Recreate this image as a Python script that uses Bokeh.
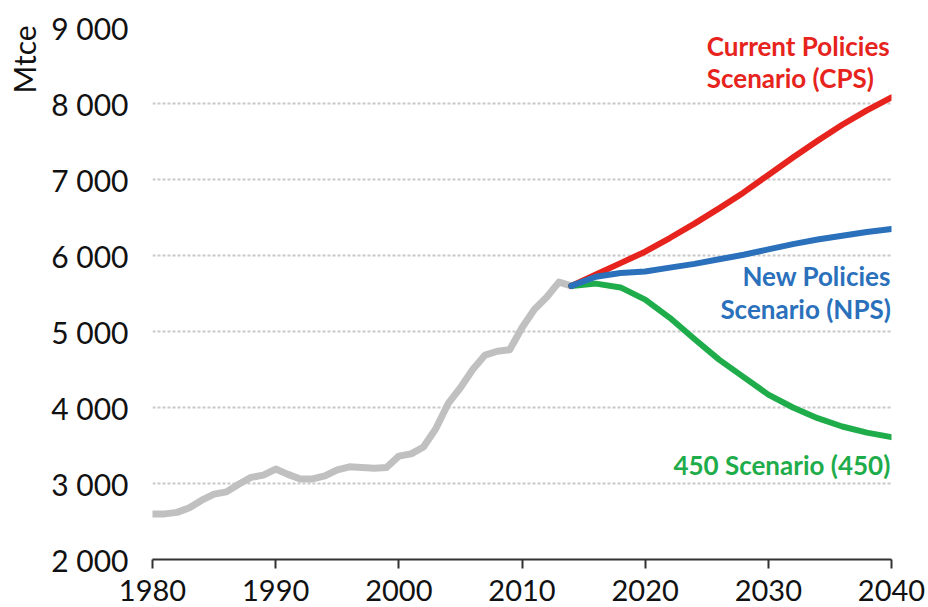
from bokeh.plotting import figure
from bokeh.models import Label, FixedTicker, CustomJSTickFormatter, LinearAxis
from bokeh.embed import file_html
from bokeh.resources import INLINE

hist_years = list(range(1980, 2015))
hist_vals = [2600, 2600, 2620, 2680, 2780, 2860, 2890, 2990, 3080, 3110,
             3190, 3120, 3060, 3060, 3100, 3180, 3220, 3210, 3200, 3210,
             3360, 3390, 3480, 3720, 4050, 4260, 4500, 4690, 4740, 4760,
             5050, 5290, 5450, 5650, 5600]

proj_years = [2014, 2016, 2018, 2020, 2022, 2024, 2026, 2028, 2030, 2032, 2034, 2036, 2038, 2040]
cps_vals = [5600, 5750, 5900, 6050, 6230, 6420, 6620, 6830, 7060, 7290, 7510, 7720, 7910, 8080]
nps_vals = [5600, 5720, 5770, 5790, 5840, 5890, 5950, 6010, 6080, 6150, 6210, 6260, 6310, 6350]
s450_vals = [5600, 5630, 5580, 5420, 5180, 4900, 4630, 4400, 4170, 4000, 3860, 3750, 3670, 3610]

x_ticks = [1980, 1990, 2000, 2010, 2020, 2030, 2040]
y_ticks = [2000, 3000, 4000, 5000, 6000, 7000, 8000, 9000]
y_unit = "Mtce"
y_unit_pos = 8580
cps_label = ["Current Policies", "Scenario (CPS)"]
nps_label = ["New Policies", "Scenario (NPS)"]
s450_label = ["450 Scenario (450)"]

RED = "#e6231c"
BLUE = "#2a70bb"
GREEN = "#1fac4b"
GRAY = "#c0c0c0"
FONT = "Lato"

p = figure(width=928, height=607, x_range=(1980, 2040), y_range=(2000, 9000),
           output_backend="svg", toolbar_location=None,
           min_border_left=152, min_border_right=37, min_border_top=27, min_border_bottom=48)
p.outline_line_color = None
p.background_fill_color = "white"

p.xgrid.grid_line_color = None
p.ygrid.grid_line_color = "#c8c8c8"
p.ygrid.grid_line_width = 2
p.ygrid.grid_line_dash = "3 2"

p.xaxis.ticker = FixedTicker(ticks=x_ticks)
p.yaxis.ticker = FixedTicker(ticks=y_ticks)
p.xaxis.minor_tick_line_color = None
p.yaxis.minor_tick_line_color = None
p.xaxis.axis_line_color = "#333333"
p.xaxis.axis_line_width = 2
p.xaxis.major_tick_line_color = "#333333"
p.xaxis.major_tick_line_width = 2
p.xaxis.major_tick_out = 9
p.xaxis.major_tick_in = 0
p.xaxis.major_label_standoff = 11
p.yaxis.axis_line_color = None
p.yaxis.major_tick_line_color = None
p.yaxis.major_tick_out = 0
p.yaxis.major_tick_in = 0
p.yaxis.major_label_standoff = 24
p.yaxis.formatter = CustomJSTickFormatter(code="""
    const s = Math.round(tick).toString();
    return s.replace(/\\B(?=(\\d{3})+(?!\\d))/g, ' ');
""")
for ax in (p.xaxis, p.yaxis):
    ax.major_label_text_font = FONT
    ax.major_label_text_color = "#111111"
p.xaxis.major_label_text_font_size = "29px"
p.yaxis.major_label_text_font_size = "30px"

# unit label as an outer left axis with a single rotated tick label
unit_axis = LinearAxis(ticker=FixedTicker(ticks=[y_unit_pos]),
                       major_label_overrides={y_unit_pos: y_unit},
                       major_label_orientation="vertical",
                       axis_line_color=None, major_tick_line_color=None,
                       minor_tick_line_color=None, major_tick_out=0, major_tick_in=0,
                       major_label_standoff=6,
                       major_label_text_font=FONT, major_label_text_font_size="30px",
                       major_label_text_color="#111111")
p.add_layout(unit_axis, "left")

p.line(hist_years, hist_vals, line_color=GRAY, line_width=7, line_join="round", line_cap="round")
p.line(proj_years, s450_vals, line_color=GREEN, line_width=6, line_join="round", line_cap="round")
p.line(proj_years, cps_vals, line_color=RED, line_width=6, line_join="round", line_cap="round")
p.line(proj_years, nps_vals, line_color=BLUE, line_width=6, line_join="round", line_cap="round")

def add_text(txt, x, y, color, align):
    p.add_layout(Label(x=x, y=y, text=txt, text_color=color, text_font=FONT,
                       text_font_style="bold", text_font_size="26px",
                       text_align=align, text_baseline="alphabetic"))

add_text(cps_label[0], 2025.0, 8760, RED, "left")
add_text(cps_label[1], 2025.0, 8340, RED, "left")
add_text(nps_label[0], 2039.95, 5725, BLUE, "right")
add_text(nps_label[1], 2039.95, 5300, BLUE, "right")
add_text(s450_label[0], 2039.9, 3240, GREEN, "right")

open("out.html", "w").write(file_html(p, INLINE))
